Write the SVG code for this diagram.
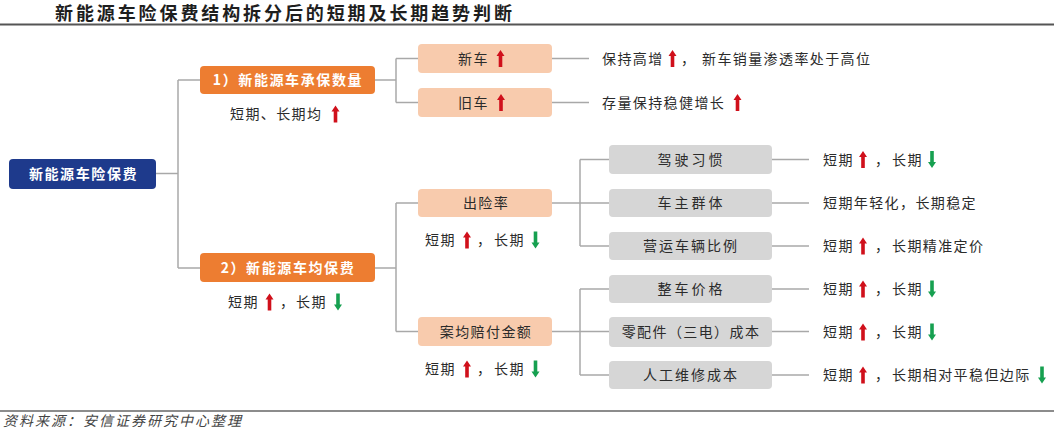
<svg xmlns="http://www.w3.org/2000/svg" xmlns:xlink="http://www.w3.org/1999/xlink" width="1054" height="431" viewBox="0 0 1054 431">
<style>
.t{font-family:"Noto Sans CJK SC","Noto Sans",sans-serif;font-size:14px;fill:#2b2b2b;letter-spacing:1.4px}
.w{fill:#fff;font-weight:bold;letter-spacing:1.6px}
.m{text-anchor:middle}
.c line{stroke:#a8a8a8;stroke-width:1.5}
.peach{fill:#f8cbad}
.gray{fill:#d6d6d6}
.org{fill:#ed7d31}
</style>
<defs>
<path id="up" d="M0,-8.5 L4,-2.5 L1.8,-2.5 L1.8,8.5 L-1.8,8.5 L-1.8,-2.5 L-4,-2.5 Z" fill="#d0101b"/>
<path id="dn" d="M0,8.5 L4,2.5 L1.8,2.5 L1.8,-8.5 L-1.8,-8.5 L-1.8,2.5 L-4,2.5 Z" fill="#16a050"/>
</defs>
<rect width="1054" height="431" fill="#fff"/>
<text x="55" y="20" style="font-family:'Noto Sans CJK SC',sans-serif;font-size:18px;font-weight:bold;fill:#1e1e1e;letter-spacing:2.9px">新能源车险保费结构拆分后的短期及长期趋势判断</text>
<line x1="0" y1="24.5" x2="1054" y2="24.5" stroke="#555" stroke-width="2"/>
<line x1="0" y1="411" x2="1054" y2="411" stroke="#666" stroke-width="1.5"/>
<text x="3" y="426" class="t" style="font-style:italic;letter-spacing:2px;fill:#444">资料来源：安信证券研究中心整理</text>

<g class="c" id="connectors">
<line x1="156" y1="173.5" x2="178" y2="173.5"/>
<line x1="178" y1="80" x2="178" y2="268"/>
<line x1="178" y1="80" x2="200" y2="80"/>
<line x1="178" y1="268" x2="200" y2="268"/>
<line x1="375" y1="80" x2="396" y2="80"/>
<line x1="396" y1="58.5" x2="396" y2="102.5"/>
<line x1="396" y1="58.5" x2="418" y2="58.5"/>
<line x1="396" y1="102.5" x2="418" y2="102.5"/>
<line x1="375" y1="268" x2="396" y2="268"/>
<line x1="396" y1="203" x2="396" y2="331.5"/>
<line x1="396" y1="203" x2="418" y2="203"/>
<line x1="396" y1="331.5" x2="418" y2="331.5"/>
<line x1="552" y1="203" x2="609" y2="203"/>
<line x1="580" y1="159.5" x2="580" y2="246"/>
<line x1="580" y1="159.5" x2="609" y2="159.5"/>
<line x1="580" y1="246" x2="609" y2="246"/>
<line x1="552" y1="331.5" x2="609" y2="331.5"/>
<line x1="580" y1="289" x2="580" y2="375"/>
<line x1="580" y1="289" x2="609" y2="289"/>
<line x1="580" y1="375" x2="609" y2="375"/>
<line x1="552" y1="58.5" x2="589" y2="58.5"/>
<line x1="552" y1="102.5" x2="589" y2="102.5"/>
<line x1="772" y1="159.5" x2="809" y2="159.5"/>
<line x1="772" y1="203" x2="809" y2="203"/>
<line x1="772" y1="246" x2="809" y2="246"/>
<line x1="772" y1="289" x2="809" y2="289"/>
<line x1="772" y1="331.5" x2="809" y2="331.5"/>
<line x1="772" y1="375" x2="809" y2="375"/>
</g>

<g id="root">
<rect x="9" y="159" width="147" height="30" rx="4" fill="#1e3a8c"/>
<text x="83.5" y="179" class="t w m">新能源车险保费</text>
</g>

<g id="n1">
<rect x="200" y="66" width="175" height="28" rx="4" class="org"/>
<text x="288" y="85" class="t w m">1）新能源车承保数量</text>
<text x="230" y="119" class="t">短期、长期均</text>
<use href="#up" x="335.5" y="114"/>
</g>

<g id="n2">
<rect x="200" y="253" width="175" height="29" rx="4" class="org"/>
<text x="288" y="273" class="t w m">2）新能源车均保费</text>
<text x="228" y="307" class="t">短期</text>
<use href="#up" x="269.5" y="302"/>
<text x="280" y="307" class="t">，</text>
<text x="296" y="307" class="t">长期</text>
<use href="#dn" x="338" y="302"/>
</g>

<g id="xinche">
<rect x="418" y="44" width="134" height="29" rx="4" class="peach"/>
<text x="458" y="63.5" class="t">新车</text>
<use href="#up" x="500.5" y="58.5"/>
<text x="602" y="63.5" class="t">保持高增</text>
<use href="#up" x="672.5" y="58.5"/>
<text x="681" y="63.5" class="t">，</text>
<text x="702" y="63.5" class="t">新车销量渗透率处于高位</text>
</g>

<g id="jiuche">
<rect x="418" y="88" width="134" height="29" rx="4" class="peach"/>
<text x="458" y="107.5" class="t">旧车</text>
<use href="#up" x="501" y="102.5"/>
<text x="602" y="107.5" class="t">存量保持稳健增长</text>
<use href="#up" x="737.5" y="102.5"/>
</g>

<g id="chuxian">
<rect x="418" y="189" width="134" height="28" rx="4" class="peach"/>
<text x="486" y="208" class="t m">出险率</text>
<text x="425" y="245" class="t">短期</text>
<use href="#up" x="467" y="240"/>
<text x="477" y="245" class="t">，</text>
<text x="494" y="245" class="t">长期</text>
<use href="#dn" x="535.5" y="240"/>
</g>

<g id="anjun">
<rect x="418" y="317" width="134" height="29" rx="4" class="peach"/>
<text x="486" y="336.5" class="t m">案均赔付金额</text>
<text x="425" y="374" class="t">短期</text>
<use href="#up" x="467" y="369"/>
<text x="477" y="374" class="t">，</text>
<text x="494" y="374" class="t">长期</text>
<use href="#dn" x="535.5" y="369"/>
</g>

<g id="jiashi">
<rect x="609" y="145" width="163" height="29" rx="4" class="gray"/>
<text x="691.5" y="164.5" class="t m" style="letter-spacing:3px">驾驶习惯</text>
<text x="823" y="164.5" class="t">短期</text>
<use href="#up" x="863" y="159.5"/>
<text x="875" y="164.5" class="t">，</text>
<text x="892" y="164.5" class="t">长期</text>
<use href="#dn" x="932" y="159.5"/>
</g>

<g id="chezhu">
<rect x="609" y="189" width="163" height="28" rx="4" class="gray"/>
<text x="691.5" y="208" class="t m" style="letter-spacing:3px">车主群体</text>
<text x="823" y="208" class="t">短期年轻化，长期稳定</text>
</g>

<g id="yingyun">
<rect x="609" y="232" width="163" height="28" rx="4" class="gray"/>
<text x="691" y="251" class="t m" style="letter-spacing:2px">营运车辆比例</text>
<text x="823" y="251" class="t">短期</text>
<use href="#up" x="863" y="246"/>
<text x="875" y="251" class="t">，</text>
<text x="892" y="251" class="t">长期精准定价</text>
</g>

<g id="zhengche">
<rect x="609" y="275" width="163" height="28" rx="4" class="gray"/>
<text x="691.5" y="294" class="t m" style="letter-spacing:3px">整车价格</text>
<text x="823" y="294" class="t">短期</text>
<use href="#up" x="863" y="289"/>
<text x="875" y="294" class="t">，</text>
<text x="892" y="294" class="t">长期</text>
<use href="#dn" x="932" y="289"/>
</g>

<g id="lingpeijian">
<rect x="609" y="317" width="163" height="30" rx="4" class="gray"/>
<text x="691" y="337" class="t m" style="letter-spacing:1.4px">零配件（三电）成本</text>
<text x="823" y="337" class="t">短期</text>
<use href="#up" x="863" y="332"/>
<text x="875" y="337" class="t">，</text>
<text x="892" y="337" class="t">长期</text>
<use href="#dn" x="932" y="332"/>
</g>

<g id="rengong">
<rect x="609" y="361" width="163" height="28" rx="4" class="gray"/>
<text x="691" y="380" class="t m" style="letter-spacing:2px">人工维修成本</text>
<text x="823" y="380" class="t">短期</text>
<use href="#up" x="863" y="375"/>
<text x="875" y="380" class="t">，</text>
<text x="892" y="380" class="t">长期相对平稳但边际</text>
<use href="#dn" x="1042" y="375"/>
</g>
</svg>
